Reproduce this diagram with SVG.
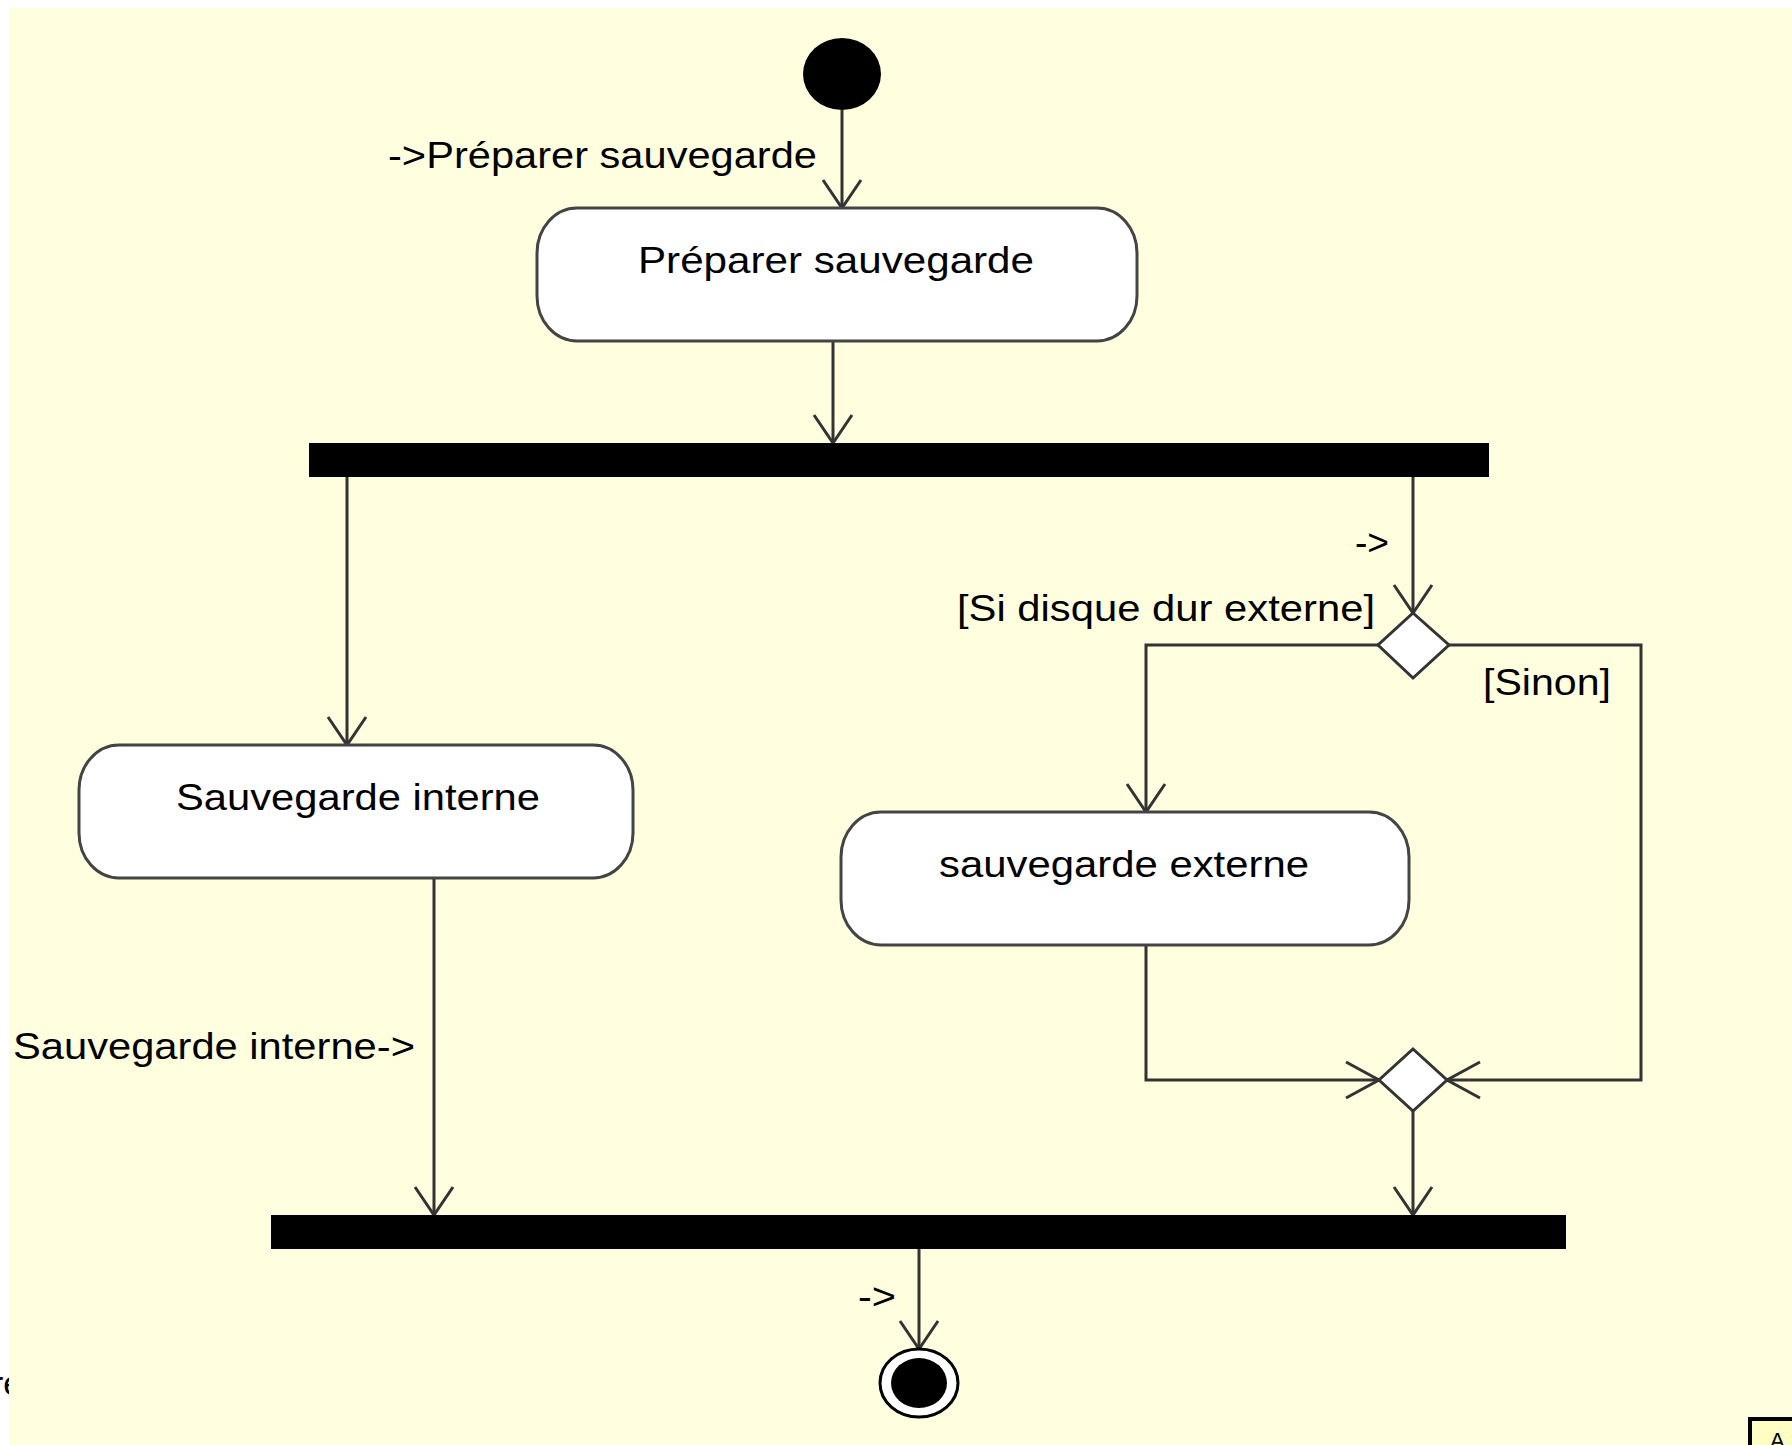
<svg xmlns="http://www.w3.org/2000/svg" width="1792" height="1445" viewBox="0 0 1792 1445">
  <style>
    .lbl { font-family: "Liberation Sans", Arial, sans-serif; font-size: 36px; fill: #000; }
    .action { fill: #fff; stroke: #444; stroke-width: 3; }
    .bar { fill: #000; }
    .diamond { fill: #fff; stroke: #333; stroke-width: 3; }
    .edge { fill: none; stroke: #333; stroke-width: 3; }
  </style>
  <defs>
    <marker id="arrV" markerUnits="userSpaceOnUse" markerWidth="40" markerHeight="40" refX="0" refY="0" orient="auto" overflow="visible">
      <path d="M-28,-19 L0,0 L-28,19" fill="none" stroke="#333" stroke-width="3"/>
    </marker>
    <marker id="arrH" markerUnits="userSpaceOnUse" markerWidth="40" markerHeight="40" refX="0" refY="0" orient="auto" overflow="visible">
      <path d="M-33,-18 L0,0 L-33,18" fill="none" stroke="#333" stroke-width="3"/>
    </marker>
  </defs>

  <!-- page -->
  <rect x="0" y="0" width="1792" height="1445" fill="#fff"/>
  <text x="-8" y="1395" font-family="Liberation Sans, sans-serif" font-size="34" fill="#000">re</text>
  <rect x="9" y="8" width="1783" height="1437" fill="#ffffe0"/>
  <rect x="1750" y="1419" width="60" height="40" fill="#ffffc4" stroke="#000" stroke-width="4"/>
  <text x="1770" y="1448" font-family="Liberation Sans, sans-serif" font-size="22" fill="#000">A</text>

  <!-- connectors -->
  <g id="connectors">
    <path class="edge" d="M842,110 V208" marker-end="url(#arrV)"/>
    <path class="edge" d="M833,341 V443" marker-end="url(#arrV)"/>
    <path class="edge" d="M347,477 V745" marker-end="url(#arrV)"/>
    <path class="edge" d="M1413,477 V613" marker-end="url(#arrV)"/>
    <path class="edge" d="M1378,645 H1146 V812" marker-end="url(#arrV)"/>
    <path class="edge" d="M1449,645 H1641 V1080 H1447" marker-end="url(#arrH)"/>
    <path class="edge" d="M1146,945 V1080 H1379" marker-end="url(#arrH)"/>
    <path class="edge" d="M1413,1111 V1215" marker-end="url(#arrV)"/>
    <path class="edge" d="M434,878 V1215" marker-end="url(#arrV)"/>
    <path class="edge" d="M919,1249 V1349" marker-end="url(#arrV)"/>
    <text class="lbl" x="388" y="168" textLength="429" lengthAdjust="spacingAndGlyphs">-&gt;Préparer sauvegarde</text>
    <text class="lbl" x="1355" y="555" textLength="34" lengthAdjust="spacingAndGlyphs">-&gt;</text>
    <text class="lbl" x="957" y="621" textLength="418" lengthAdjust="spacingAndGlyphs">[Si disque dur externe]</text>
    <text class="lbl" x="1483" y="695" textLength="128" lengthAdjust="spacingAndGlyphs">[Sinon]</text>
    <text class="lbl" x="13" y="1059" textLength="402" lengthAdjust="spacingAndGlyphs">Sauvegarde interne-&gt;</text>
    <text class="lbl" x="858" y="1309" textLength="38" lengthAdjust="spacingAndGlyphs">-&gt;</text>
  </g>

  <!-- nodes -->
  <g id="initial">
    <ellipse cx="842" cy="74" rx="39" ry="36" fill="#000"/>
  </g>
  <g id="preparer">
    <rect class="action" x="537" y="208" width="600" height="133" rx="40" ry="45"/>
    <text class="lbl" x="638" y="273" textLength="396" lengthAdjust="spacingAndGlyphs">Préparer sauvegarde</text>
  </g>
  <g id="fork">
    <rect class="bar" x="309" y="443" width="1180" height="34"/>
  </g>
  <g id="interne">
    <rect class="action" x="79" y="745" width="554" height="133" rx="40" ry="45"/>
    <text class="lbl" x="176" y="810" textLength="364" lengthAdjust="spacingAndGlyphs">Sauvegarde interne</text>
  </g>
  <g id="decision">
    <polygon class="diamond" points="1413,613 1449,645 1413,678 1378,645"/>
  </g>
  <g id="externe">
    <rect class="action" x="841" y="812" width="568" height="133" rx="40" ry="45"/>
    <text class="lbl" x="939" y="877" textLength="370" lengthAdjust="spacingAndGlyphs">sauvegarde externe</text>
  </g>
  <g id="merge">
    <polygon class="diamond" points="1413,1049 1447,1080 1413,1111 1379,1080"/>
  </g>
  <g id="join">
    <rect class="bar" x="271" y="1215" width="1295" height="34"/>
  </g>
  <g id="final">
    <ellipse cx="919" cy="1383" rx="39" ry="34" fill="#fff" stroke="#000" stroke-width="3"/>
    <ellipse cx="919" cy="1383" rx="28" ry="25" fill="#000"/>
  </g>
</svg>
